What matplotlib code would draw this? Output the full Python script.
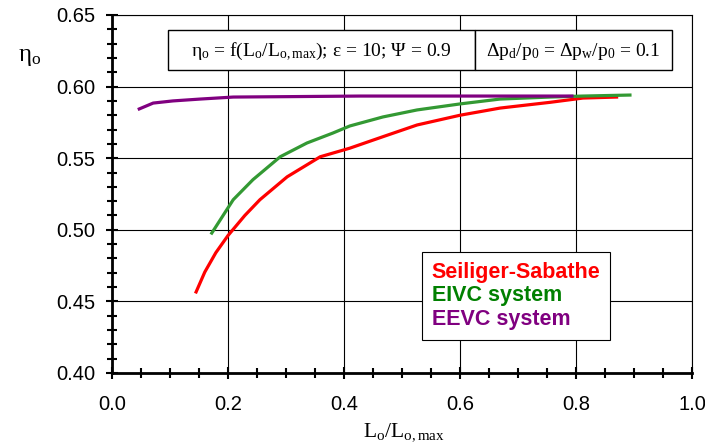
import matplotlib
matplotlib.use("Agg")
import matplotlib.pyplot as plt
from matplotlib.patches import Rectangle
from matplotlib.ticker import MultipleLocator, FormatStrFormatter

plt.rcParams['font.family'] = ['Liberation Sans', 'DejaVu Sans']
plt.rcParams['mathtext.fontset'] = 'custom'
plt.rcParams['mathtext.rm'] = 'Liberation Serif'
plt.rcParams['mathtext.it'] = 'Liberation Serif:italic'

# data
series_names = ['Seiliger-Sabathe', 'EIVC system', 'EEVC system']

ss_x = [0.145, 0.160, 0.179, 0.200, 0.229, 0.255, 0.302, 0.359, 0.410, 0.467,
        0.526, 0.600, 0.669, 0.755, 0.812, 0.870]
ss_y = [0.4566, 0.4705, 0.484, 0.496, 0.510, 0.521, 0.537, 0.551, 0.557, 0.565,
        0.5732, 0.580, 0.585, 0.589, 0.592, 0.5927]

eivc_x = [0.172, 0.209, 0.243, 0.290, 0.336, 0.381, 0.410, 0.467, 0.526, 0.600,
          0.669, 0.755, 0.812, 0.893]
eivc_y = [0.4977, 0.521, 0.535, 0.551, 0.5606, 0.5676, 0.5725, 0.5788, 0.5837, 0.5879,
          0.5913, 0.5927, 0.5934, 0.5941]

eevc_x = [0.047, 0.071, 0.105, 0.152, 0.209, 0.307, 0.428, 0.600, 0.793]
eevc_y = [0.5844, 0.5885, 0.590, 0.5913, 0.5927, 0.593, 0.5934, 0.5934, 0.5934]

line_colors = ['#ff0000', '#339933', '#800080']
text_colors = ['#ff0000', '#008000', '#800080']

fig = plt.figure(figsize=(7.05, 4.45), dpi=100)
ax = fig.add_axes([112/705, 1-373/445, 580/705, 358/445])

ax.plot(ss_x, ss_y, color=line_colors[0], lw=2.3, label=series_names[0])
ax.plot(eivc_x, eivc_y, color=line_colors[1], lw=2.3, label=series_names[1])
ax.plot(eevc_x, eevc_y, color=line_colors[2], lw=2.3, label=series_names[2])

ax.set_xlim(0, 1.0)
ax.set_ylim(0.40, 0.65)
ax.xaxis.set_major_locator(MultipleLocator(0.2))
ax.xaxis.set_minor_locator(MultipleLocator(0.05))
ax.yaxis.set_major_locator(MultipleLocator(0.05))
ax.yaxis.set_minor_locator(MultipleLocator(0.01))
ax.xaxis.set_major_formatter(FormatStrFormatter('%.1f'))
ax.yaxis.set_major_formatter(FormatStrFormatter('%.2f'))
ax.grid(True, which='major', color='black', lw=0.8)
ax.tick_params(which='major', direction='inout', length=8, width=1.5, labelsize=14.5)
ax.tick_params(axis='x', which='major', pad=12)
ax.tick_params(axis='y', which='major', pad=8)
ax.tick_params(which='minor', direction='inout', length=7, width=1.5)
for s in ['left', 'bottom']:
    ax.spines[s].set_linewidth(2.0)
for s in ['top', 'right']:
    ax.spines[s].set_linewidth(0.8)

# header boxes
tr = ax.transAxes
x0, xm, x1 = (168-112)/580, (475-112)/580, (672-112)/580
yb, yt = (373-70)/358, (373-30)/358
for a, b in [(x0, xm), (xm, x1)]:
    ax.add_patch(Rectangle((a, yb), b-a, yt-yb, transform=tr, facecolor='white',
                           edgecolor='black', lw=1.0, zorder=5))
serif = 'Liberation Serif'
ax.text((x0+xm)/2, (yb+yt)/2 - 0.005,
        r'η$_\mathrm{o}$ = f(L$_\mathrm{o}$/L$_\mathrm{o,max}$); ε = 10; Ψ = 0.9',
        transform=tr, ha='center', va='center', fontsize=14, family=serif, zorder=6)
ax.text((xm+x1)/2, (yb+yt)/2 - 0.005,
        r'Δp$_\mathrm{d}$/p$_\mathrm{0}$ = Δp$_\mathrm{w}$/p$_\mathrm{0}$ = 0.1',
        transform=tr, ha='center', va='center', fontsize=14, family=serif, zorder=6)

leg = ax.legend(loc='upper left', bbox_to_anchor=((422-112)/580, (373-252)/358),
                borderaxespad=0, handlelength=0, handletextpad=0, fancybox=False,
                framealpha=1, edgecolor='black', prop={'weight': 'bold', 'size': 15.5},
                borderpad=0.45, labelspacing=0.12)
leg.get_frame().set_linewidth(0.8)
for h in leg.legend_handles:
    h.set_visible(False)
for t, c in zip(leg.get_texts(), text_colors):
    t.set_color(c)

fig.text(30/705, 1-57/445, r'η$_\mathrm{o}$', ha='center', va='center', fontsize=18, family=serif)
fig.text(404/705, 1-432/445, r'L$_\mathrm{o}$/L$_\mathrm{o,max}$', ha='center', va='center',
         fontsize=15.5, family=serif)

fig.savefig('out.png', dpi=100)
